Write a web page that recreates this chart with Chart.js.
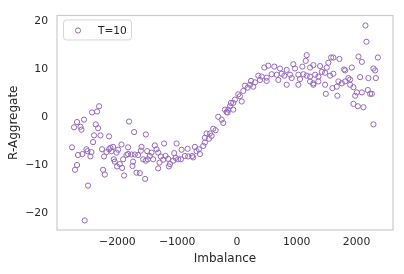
<!DOCTYPE html>
<html>
<head>
<meta charset="utf-8">
<script src="https://cdn.jsdelivr.net/npm/chart.js@4.4.0/dist/chart.umd.min.js"></script>
<style>
  html, body { margin: 0; padding: 0; background: #fff; }
  #wrap { width: 404px; height: 274px; }
</style>
</head>
<body>
<div id="wrap"><canvas id="myChart" width="404" height="274"></canvas></div>
<script>
// values
const imbalance = [
  -2306, -2340, -2424, -2558, -2675, -2725, -2618, -2601, -2362, -2323,
  -1804, -1720, -2390, -2283, -2139, -1524, -2407, -2759, -2518, -2501,
  -2434, -2658, -2585, -2451, -2256, -2183, -2223, -2139, -2116, -2072,
  -2099, -1988, -2015, -1931, -1821, -1596, -1608, -1502, -1904, -1848,
  -1821, -1764, -1709, -1653, -1737, -1747, -2060, -2044, -1960, -2005,
  -1921, -1569, -1524, -1491, -2675, -2709, -2239, -2211, -1888, -1680,
  -1625, -1536, -2491, -2546,
  -1218, -1010, -1374, -1429, -1345, -1318, -1457, -1402, -1273, -1194,
  -1151, -1234, -1050, -1027, -926, -826, -938, -871, -816, -749,
  -704, -675, -637, -564, -536, -508, -469, -424, -397, -357,
  -313, -256, -229, -201, -156, -101, -62, -983, -1122, -1318,
  -1295, -1067, -732, -620, -536, -452, -1139,
  1167, 1151, 457, 524, 625, 720, 832, 943, 972, 1094,
  357, 414, 497, 581, 665, 749, 792, 888, 1027, 1111,
  1223, 235, 302, 385, 497, 692, 916, 1055, 134, 218,
  273, 179, 832, 1027, 1278, 106, 22, 50, -34, 79,
  -62, -117, -146, -173,
  2149, 2166, 1613, 1575, 1714, 2032, 2089, 2357, 1529, 1278,
  1223, 1390, 1502, 1921, 1792, 2283, 2312, 1419, 1474, 1167,
  1307, 1362, 1558, 1613, 1809, 2060, 2199, 2323, 1864, 1893,
  1223, 1278, 1362, 1474, 1697, 1754, 1809, 1893, 1948, 1596,
  1670, 2005, 2089, 2189, 2228, 2256, 1977, 1486, 1680, 1948,
  2022, 2116, 2283
];
const rAggregate = [
  2.3, 1.2, 1.0, -0.5, -1.0, -2.1, -2.0, -2.6, -1.5, -2.3,
  -0.9, -3.1, -3.8, -3.8, -4.0, -3.6, -5.2, -6.3, -6.7, -7.1,
  -7.3, -7.9, -7.7, -8.2, -6.7, -7.3, -8.2, -6.7, -6.4, -6.2,
  -7.1, -6.8, -7.4, -5.7, -6.3, -6.2, -7.0, -7.1, -8.8, -7.9,
  -7.7, -7.8, -7.8, -7.9, -9.3, -10.2, -8.8, -9.3, -9.8, -10.3,
  -10.6, -8.8, -9.1, -8.8, -10.0, -11.0, -11.0, -12.0, -12.2, -11.6,
  -11.7, -12.9, -14.3, -21.6,
  -5.5, -5.5, -5.9, -7.4, -6.7, -7.4, -8.1, -8.8, -8.2, -8.1,
  -8.7, -8.9, -7.5, -8.5, -6.8, -6.6, -8.8, -8.1, -8.2, -8.1,
  -6.2, -7.1, -6.7, -6.0, -5.3, -3.4, -4.5, -3.9, -2.4, -2.7,
  0.1, -0.5, -1.2, 1.6, 1.0, 3.0, 1.6, -8.8, -9.8, -10.7,
  -9.5, -9.1, -8.4, -7.7, -4.3, -3.4, -10.3,
  13.0, 11.8, 10.4, 10.8, 10.6, 10.2, 9.9, 11.1, 10.2, 10.6,
  8.7, 8.5, 8.3, 9.0, 8.9, 9.1, 8.7, 8.9, 8.9, 9.0,
  8.5, 7.6, 7.3, 7.8, 7.6, 7.8, 8.2, 8.0, 6.6, 6.8,
  6.4, 6.2, 6.8, 6.8, 6.8, 5.5, 4.8, 4.4, 3.7, 3.3,
  3.0, 2.3, 1.6, 1.1,
  19.2, 15.8, 12.5, 12.5, 12.2, 12.7, 11.6, 12.5, 11.4, 10.9,
  10.4, 10.7, 10.4, 10.4, 10.0, 10.2, 9.8, 9.5, 9.3, 8.7,
  8.9, 8.5, 8.7, 9.1, 9.8, 8.4, 8.2, 8.2, 8.2, 7.9,
  7.5, 7.1, 7.5, 6.8, 7.5, 7.1, 7.5, 6.8, 6.3, 6.1,
  6.4, 5.2, 5.2, 5.7, 4.9, 4.9, 4.5, 4.9, 4.5, 2.8,
  2.3, 2.1, -1.5
];
const xTicks = [-2000, -1000, 0, 1000, 2000];
const yTicks = [-20, -10, 0, 10, 20];
const seriesLabel = 'T=10';

const points = imbalance.map((x, i) => ({ x: x, y: rAggregate[i] }));
const textColor = '#262626';
const purple = '#9467bd';
const font = { family: 'DejaVu Sans', size: 10.8 };
const titleFont = { family: 'DejaVu Sans', size: 12 };

// grey frame round the plot, and the legend box inside it (top left)
const framePlugin = {
  id: 'frame',
  afterDraw(chart) {
    const c = chart.ctx, a = chart.chartArea;
    c.save();
    c.strokeStyle = '#cccccc';
    c.lineWidth = 1.2;
    c.strokeRect(a.left, a.top, a.right - a.left, a.bottom - a.top);

    const bx = a.left + 6.5, by = a.top + 4.5;
    c.beginPath();
    c.roundRect(bx, by, 68, 20, 3);
    c.fillStyle = 'rgba(255,255,255,0.8)';
    c.fill();
    c.strokeStyle = '#d6d6d6';
    c.lineWidth = 1;
    c.stroke();

    c.beginPath();
    c.arc(bx + 14.5, by + 10.5, 2.6, 0, Math.PI * 2);
    c.strokeStyle = purple;
    c.stroke();

    c.fillStyle = textColor;
    c.font = '10.6px "DejaVu Sans"';
    c.textBaseline = 'middle';
    c.textAlign = 'left';
    c.fillText(seriesLabel, bx + 34.5, by + 11);
    c.restore();
  }
};

new Chart(document.getElementById('myChart'), {
  type: 'scatter',
  data: {
    datasets: [{
      label: seriesLabel,
      data: points,
      pointStyle: 'circle',
      pointRadius: 2.6,
      pointBorderWidth: 1,
      borderColor: purple,
      backgroundColor: 'rgba(0,0,0,0)'
    }]
  },
  options: {
    responsive: false,
    animation: false,
    layout: { padding: { left: 0, top: 13, right: 11, bottom: 0 } },
    plugins: {
      tooltip: { enabled: false },
      legend: { display: false }
    },
    scales: {
      x: {
        type: 'linear',
        min: -3010,
        max: 2610,
        afterBuildTicks: s => { s.ticks = xTicks.map(v => ({ value: v })); },
        afterFit: s => { s.height = 44; },
        grid: { display: false, drawTicks: false },
        border: { display: false },
        ticks: { color: textColor, font: font, padding: 6,
          callback: v => String(v).replace('-', '\u2212') },
        title: { display: true, text: 'Imbalance', color: textColor,
          font: titleFont, padding: { top: 1, bottom: 7.8 } }
      },
      y: {
        type: 'linear',
        min: -23.6,
        max: 21.3,
        afterBuildTicks: s => { s.ticks = yTicks.map(v => ({ value: v })); },
        afterFit: s => { s.width = 57; },
        grid: { display: false, drawTicks: false },
        border: { display: false },
        ticks: { color: textColor, font: font, padding: 9,
          callback: v => String(v).replace('-', '\u2212') },
        title: { display: true, text: 'R-Aggregate', color: textColor,
          font: titleFont, padding: { top: 6.8, bottom: 2 } }
      }
    }
  },
  plugins: [framePlugin]
});
</script>
</body>
</html>
